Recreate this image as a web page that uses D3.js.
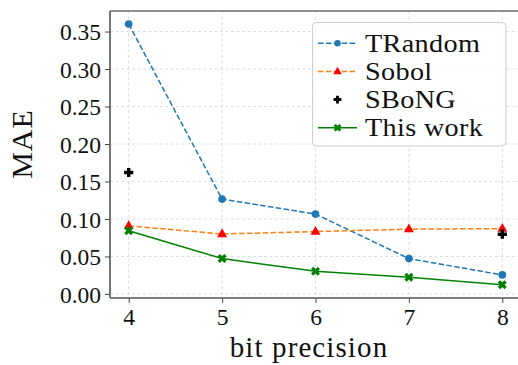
<!DOCTYPE html>
<html>
<head>
<meta charset="utf-8">
<script src="https://cdn.jsdelivr.net/npm/d3@7"></script>
<style>
  html, body { margin: 0; padding: 0; background: #fff; }
  svg { display: block; }
  text { font-family: "Liberation Serif", "DejaVu Serif", serif; fill: #111; }
</style>
</head>
<body>
<svg id="chart" width="518" height="365"></svg>
<script>
// Mean absolute error per bit precision for each generator
const bits = [4, 5, 6, 7, 8];
const trandom = [0.360, 0.1265, 0.1065, 0.0472, 0.0254];
const sobol = [0.0908, 0.0800, 0.0832, 0.0864, 0.0872];
const sbongBits = [4, 8];
const sbong = [0.162, 0.0797];
const thisWork = [0.0842, 0.0472, 0.0303, 0.0223, 0.0124];
const yTicks = [0.00, 0.05, 0.10, 0.15, 0.20, 0.25, 0.30, 0.35];
const seriesNames = ["TRandom", "Sobol", "SBoNG", "This work"];

const svg = d3.select("#chart");
const plotLeft = 110, plotRight = 521, plotTop = 11, plotBottom = 298;

const x = d3.scaleLinear().domain([3.8, 8.2]).range([plotLeft, plotRight]);
const y = d3.scaleLinear().domain([-0.0054, 0.3774]).range([plotBottom, plotTop]);

// grid
const grid = svg.append("g");
grid.selectAll("line.gx").data(bits).join("line")
  .attr("x1", d => x(d)).attr("x2", d => x(d))
  .attr("y1", plotTop).attr("y2", plotBottom)
  .attr("stroke", "#d4d4d4").attr("stroke-width", 0.8).attr("stroke-dasharray", "3,2.5");
grid.selectAll("line.gy").data(yTicks).join("line")
  .attr("x1", plotLeft).attr("x2", plotRight)
  .attr("y1", d => y(d)).attr("y2", d => y(d))
  .attr("stroke", "#d4d4d4").attr("stroke-width", 0.8).attr("stroke-dasharray", "3,2.5");

// axes
const xAxis = svg.append("g").attr("transform", `translate(0,${plotBottom})`)
  .call(d3.axisBottom(x).tickValues(bits).tickFormat(d3.format("d")).tickSize(5).tickPadding(6));
const yAxis = svg.append("g").attr("transform", `translate(${plotLeft},0)`)
  .call(d3.axisLeft(y).tickValues(yTicks).tickFormat(d3.format(".2f")).tickSize(5).tickPadding(4));
[xAxis, yAxis].forEach(a => {
  a.select(".domain").remove();
  a.selectAll(".tick line").attr("stroke", "#444").attr("stroke-width", 1);
  a.selectAll(".tick text").style("font-family", "Liberation Serif").style("font-size", "23.5px").attr("fill", "#111");
});
xAxis.selectAll(".tick text").attr("dy", "0.68em");
yAxis.selectAll(".tick text").attr("dy", "0.35em");

// spines
svg.append("line").attr("x1", plotLeft).attr("x2", plotRight).attr("y1", plotTop).attr("y2", plotTop)
  .attr("stroke", "#222").attr("stroke-width", 1.2);
svg.append("line").attr("x1", plotLeft).attr("x2", plotLeft).attr("y1", plotTop).attr("y2", plotBottom)
  .attr("stroke", "#555").attr("stroke-width", 1.6);
svg.append("line").attr("x1", plotLeft).attr("x2", plotRight).attr("y1", plotBottom).attr("y2", plotBottom)
  .attr("stroke", "#555").attr("stroke-width", 1.6);

// axis titles
svg.append("text").attr("x", 309).attr("y", 357).attr("text-anchor", "middle")
  .style("font-size", "29px").style("letter-spacing", "1.1px").text("bit precision");
svg.append("text").attr("transform", "translate(32,144) rotate(-90)").attr("text-anchor", "middle")
  .style("font-size", "30px").style("letter-spacing", "1px").text("MAE");

const line = d3.line().x(d => x(d[0])).y(d => y(d[1]));
const zip = (xs, ys) => xs.map((v, i) => [v, ys[i]]);

// marker symbols
const circlePath = d3.symbol(d3.symbolCircle, 46)();
const triPath = "M0,-5.6L5,3.2L-5,3.2Z";
const plusPath = "M-1.7,-4.6H1.7V-1.7H4.6V1.7H1.7V4.6H-1.7V1.7H-4.6V-1.7H-1.7Z";
const xPath = (() => {
  const a = 4.5, w = 2.3;
  return `M${-a},${-a + w}L${-a + w},${-a}L0,${-w}L${a - w},${-a}L${a},${-a + w}L${w},0L${a},${a - w}L${a - w},${a}L0,${w}L${-a + w},${a}L${-a},${a - w}L${-w},0Z`;
})();

const plot = svg.append("g");

// TRandom
plot.append("path").datum(zip(bits, trandom)).attr("d", line)
  .attr("fill", "none").attr("stroke", "#1f77b4").attr("stroke-width", 1.5).attr("stroke-dasharray", "5.5,2.4");
// Sobol
plot.append("path").datum(zip(bits, sobol)).attr("d", line)
  .attr("fill", "none").attr("stroke", "#ff7f0e").attr("stroke-width", 1.5).attr("stroke-dasharray", "5.5,2.4");
// This work
plot.append("path").datum(zip(bits, thisWork)).attr("d", line)
  .attr("fill", "none").attr("stroke", "#008000").attr("stroke-width", 1.5);

plot.selectAll("path.mt").data(zip(bits, trandom)).join("path").attr("class", "mt")
  .attr("d", circlePath).attr("transform", d => `translate(${x(d[0])},${y(d[1])})`).attr("fill", "#1f77b4");
plot.selectAll("path.ms").data(zip(bits, sobol)).join("path").attr("class", "ms")
  .attr("d", triPath).attr("transform", d => `translate(${x(d[0])},${y(d[1])})`).attr("fill", "#ff0000");
plot.selectAll("path.mw").data(zip(bits, thisWork)).join("path").attr("class", "mw")
  .attr("d", xPath).attr("transform", d => `translate(${x(d[0])},${y(d[1])})`).attr("fill", "#008000");
plot.selectAll("path.mb").data(zip(sbongBits, sbong)).join("path").attr("class", "mb")
  .attr("d", plusPath).attr("transform", d => `translate(${x(d[0])},${y(d[1])})`).attr("fill", "#000");

// legend
const lg = svg.append("g");
lg.append("rect").attr("x", 312.5).attr("y", 22.5).attr("width", 193.5).attr("height", 123.5)
  .attr("rx", 4).attr("fill", "rgba(255,255,255,0.8)").attr("stroke", "#cccccc").attr("stroke-width", 1);
const styles = [
  { color: "#1f77b4", dash: "5.5,2.4", marker: circlePath, mfill: "#1f77b4", line: true },
  { color: "#ff7f0e", dash: "5.5,2.4", marker: triPath, mfill: "#ff0000", line: true },
  { color: "#000", dash: null, marker: plusPath, mfill: "#000", line: false },
  { color: "#008000", dash: null, marker: xPath, mfill: "#008000", line: true }
];
const rowY = d3.scaleLinear().domain([0, 3]).range([43.3, 127.7]);
seriesNames.forEach((name, i) => {
  const s = styles[i];
  const cy = rowY(i);
  if (s.line) {
    lg.append("line").attr("x1", 318).attr("x2", 357).attr("y1", cy).attr("y2", cy)
      .attr("stroke", s.color).attr("stroke-width", 1.5).attr("stroke-dasharray", s.dash);
  }
  lg.append("path").attr("d", s.marker).attr("transform", `translate(337.5,${cy}) scale(0.85)`).attr("fill", s.mfill);
  lg.append("text").attr("transform", `translate(365,${cy}) scale(1.12,1)`).attr("dy", "0.34em")
    .style("font-size", "25.2px").style("letter-spacing", "0.3px").text(name);
});
</script>
</body>
</html>
